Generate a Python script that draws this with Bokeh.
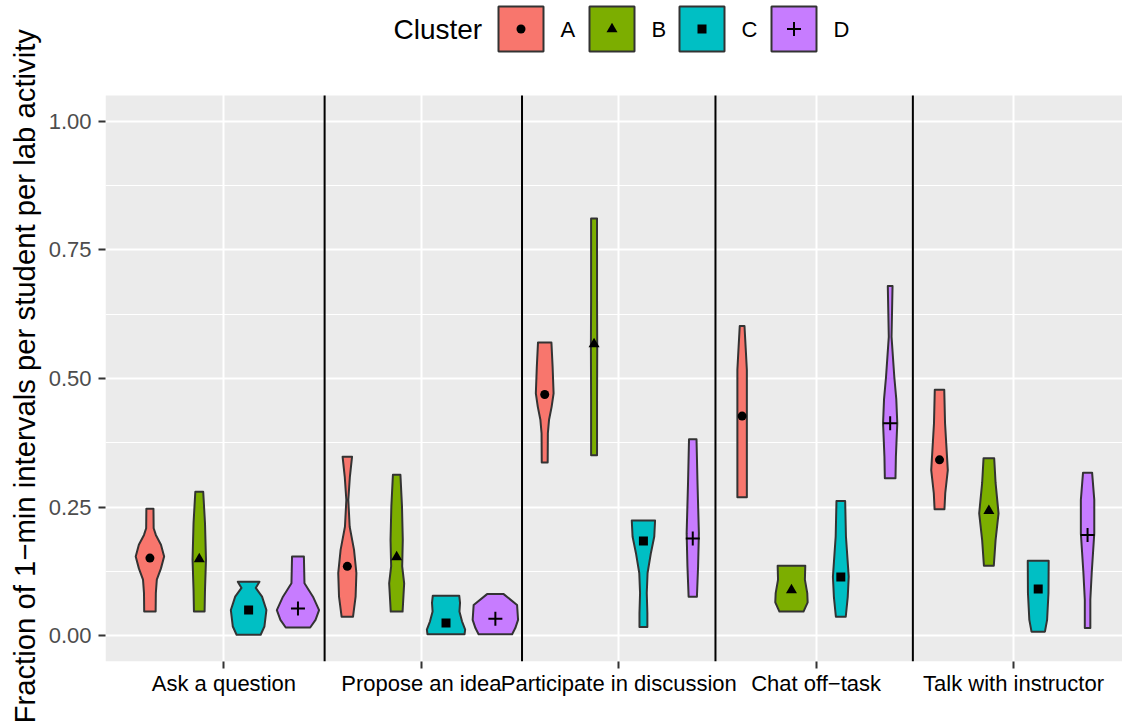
from bokeh.plotting import figure
from bokeh.models import Range1d, FixedTicker, NumeralTickFormatter, Title
from bokeh.core.properties import value
from bokeh.embed import file_html
from bokeh.resources import INLINE

# ---------------- data ----------------
categories = ["Ask a question", "Propose an idea", "Participate in discussion",
              "Chat off\u2212task", "Talk with instructor"]
clusters = ["A", "B", "C", "D"]

mean_A = [0.151, 0.135, 0.469, 0.427, 0.342]
mean_B = [0.149, 0.153, 0.567, 0.089, 0.243]
mean_C = [0.050, 0.025, 0.184, 0.114, 0.091]
mean_D = [0.053, 0.033, 0.189, 0.413, 0.196]

# violin outlines: y levels and density half-widths (x units), one list per activity
violin_y_A = [
    [0.047, 0.083, 0.109, 0.131, 0.154, 0.177, 0.196, 0.209, 0.247],
    [0.037, 0.076, 0.122, 0.167, 0.212, 0.264, 0.309, 0.348],
    [0.337, 0.394, 0.420, 0.445, 0.471, 0.523, 0.570],
    [0.269, 0.348, 0.426, 0.517, 0.560, 0.602],
    [0.246, 0.277, 0.322, 0.413, 0.478],
]
violin_w_A = [
    [0.029, 0.030, 0.035, 0.056, 0.072, 0.056, 0.030, 0.019, 0.018],
    [0.029, 0.042, 0.046, 0.034, 0.012, 0.005, 0.013, 0.024],
    [0.015, 0.016, 0.022, 0.035, 0.045, 0.040, 0.034],
    [0.024, 0.024, 0.024, 0.024, 0.018, 0.012],
    [0.025, 0.029, 0.042, 0.028, 0.024],
]
violin_y_B = [
    [0.047, 0.089, 0.148, 0.219, 0.280],
    [0.047, 0.102, 0.135, 0.186, 0.251, 0.313],
    [0.351, 0.458, 0.562, 0.652, 0.811],
    [0.047, 0.065, 0.083, 0.109, 0.136],
    [0.136, 0.186, 0.238, 0.297, 0.345],
]
violin_w_B = [
    [0.027, 0.029, 0.034, 0.029, 0.020],
    [0.030, 0.038, 0.028, 0.031, 0.027, 0.019],
    [0.015, 0.015, 0.016, 0.015, 0.015],
    [0.061, 0.082, 0.080, 0.068, 0.070],
    [0.025, 0.034, 0.049, 0.034, 0.027],
]
violin_y_C = [
    [0.002, 0.018, 0.050, 0.076, 0.093, 0.105],
    [0.003, 0.012, 0.028, 0.047, 0.064, 0.078],
    [0.017, 0.044, 0.083, 0.122, 0.161, 0.193, 0.224],
    [0.037, 0.075, 0.115, 0.193, 0.262],
    [0.008, 0.031, 0.083, 0.146],
]
violin_w_C = [
    [0.061, 0.080, 0.090, 0.068, 0.036, 0.055],
    [0.094, 0.097, 0.081, 0.068, 0.071, 0.067],
    [0.020, 0.020, 0.017, 0.021, 0.038, 0.055, 0.059],
    [0.025, 0.035, 0.040, 0.026, 0.022],
    [0.034, 0.045, 0.052, 0.053],
]
violin_y_D = [
    [0.016, 0.031, 0.050, 0.076, 0.102, 0.154],
    [0.003, 0.015, 0.031, 0.060, 0.081],
    [0.076, 0.135, 0.199, 0.297, 0.382],
    [0.306, 0.348, 0.413, 0.460, 0.503, 0.581, 0.680],
    [0.015, 0.070, 0.122, 0.199, 0.264, 0.317],
]
violin_w_D = [
    [0.062, 0.089, 0.107, 0.076, 0.033, 0.030],
    [0.085, 0.101, 0.115, 0.110, 0.042],
    [0.021, 0.027, 0.031, 0.024, 0.019],
    [0.027, 0.029, 0.036, 0.031, 0.021, 0.007, 0.012],
    [0.014, 0.014, 0.021, 0.034, 0.034, 0.023],
]

separators = [1.51, 2.51, 3.49, 4.49]
y_ticks = [0.0, 0.25, 0.5, 0.75, 1.0]
y_minor = [0.125, 0.375, 0.625, 0.875]
y_title = "Fraction of 1\u2212min intervals per student per lab activity"

# ---------------- layout / styles ----------------
FONT = "Liberation Sans"
colors = ["#F8766D", "#7CAE00", "#00BFC4", "#C77CFF"]
markers = ["circle", "triangle", "square", "cross"]
marker_sizes = [9, 11, 9, 14]
dodge = [-0.375, -0.125, 0.125, 0.375]

means = [mean_A, mean_B, mean_C, mean_D]
vys = [violin_y_A, violin_y_B, violin_y_C, violin_y_D]
vws = [violin_w_A, violin_w_B, violin_w_C, violin_w_D]

W, H = 1122, 725
FRAME_LEFT = 105
BOTTOM_BORDER = 64
PX_X = 197.4                         # px per category step
PX_Y = 514.5                         # px per unit of y
X0, Y0 = 0.4, -0.05                  # panel lower-left in data units
X1 = X0 + (W - FRAME_LEFT) / PX_X
FRAME_H = H - BOTTOM_BORDER
Y1_PANEL = 1.05
Y1 = Y0 + FRAME_H / PX_Y             # frame reaches the top of the page (legend area)
TITLE_FS = 29.3
TITLE_CENTER = 375.5


def px_to_x(px):
    return X0 + (px - FRAME_LEFT) / PX_X


def px_to_y(py):
    return Y0 + (FRAME_H - py) / PX_Y


p = figure(width=W, height=H,
           x_range=Range1d(X0, X1), y_range=Range1d(Y0, Y1),
           output_backend="svg", toolbar_location=None,
           min_border_left=FRAME_LEFT, min_border_right=0,
           min_border_top=0, min_border_bottom=BOTTOM_BORDER,
           background_fill_color="white", border_fill_color="white",
           outline_line_color=None)

# grey panel
p.quad(left=X0, right=X1, bottom=Y0, top=Y1_PANEL, fill_color="#EBEBEB",
       line_color=None, level="image")

xt = FixedTicker(ticks=[1, 2, 3, 4, 5])
yt = FixedTicker(ticks=y_ticks, minor_ticks=y_minor)
p.xaxis.ticker = xt
p.xgrid.ticker = xt
p.yaxis.ticker = yt
p.ygrid.ticker = yt
p.xgrid.grid_line_color = "white"
p.xgrid.grid_line_width = 2
p.ygrid.grid_line_color = "white"
p.ygrid.grid_line_width = 2
p.ygrid.minor_grid_line_color = "white"
p.ygrid.minor_grid_line_width = 1

for ax in (p.xaxis[0], p.yaxis[0]):
    ax.axis_line_color = None
    ax.major_tick_in = 0
    ax.major_tick_out = 7
    ax.major_tick_line_color = "#333333"
    ax.major_tick_line_width = 2
    ax.minor_tick_line_color = None
    ax.major_label_text_font = FONT
    ax.major_label_text_font_size = "22px"

p.xaxis.major_label_overrides = {i + 1: c for i, c in enumerate(categories)}
p.xaxis.major_label_text_color = "black"
p.xaxis.major_label_standoff = 2

p.yaxis.formatter = NumeralTickFormatter(format="0.00")
p.yaxis.major_label_text_color = "#4D4D4D"
p.yaxis.major_label_standoff = 7

# y title, centred on the grey panel
title_len = 23.7 * TITLE_FS
p.add_layout(Title(text=y_title, align="left",
                   offset=-round(TITLE_CENTER + title_len / 2 - FRAME_H),
                   standoff=9, text_font=FONT, text_font_size=f"{TITLE_FS}px",
                   text_font_style="normal", text_color="black"), "left")

# separators between activities
p.segment(x0=separators, y0=Y0, x1=separators, y1=Y1_PANEL,
          line_color="black", line_width=2)

# violins
for k in range(4):
    xs_list, ys_list = [], []
    for c in range(5):
        center = c + 1 + dodge[k]
        ys = vys[k][c]
        ws = vws[k][c]
        xs_list.append([center + w for w in ws] + [center - w for w in reversed(ws)])
        ys_list.append(list(ys) + list(reversed(ys)))
    p.patches(xs_list, ys_list, fill_color=colors[k], line_color="#333333",
              line_width=2, line_join="round")

# means
for k in range(4):
    xm = [c + 1 + dodge[k] for c in range(5)]
    if markers[k] == "cross":
        p.scatter(xm, means[k], marker="cross", size=marker_sizes[k],
                  line_color="black", line_width=2)
    else:
        p.scatter(xm, means[k], marker=markers[k], size=marker_sizes[k],
                  fill_color="black", line_color=None)

# legend above the panel
KEY = 45
key_cy = px_to_y(28.5)
key_left = [498, 589, 679, 771]
key_cx = [px_to_x(l + KEY / 2) for l in key_left]
p.rect(x=key_cx, y=[key_cy] * 4, width=KEY, height=KEY,
       width_units="screen", height_units="screen",
       fill_color=colors, line_color="#333333", line_width=2)
for k in range(4):
    if markers[k] == "cross":
        p.scatter([key_cx[k]], [key_cy], marker="cross", size=marker_sizes[k],
                  line_color="black", line_width=2)
    else:
        p.scatter([key_cx[k]], [key_cy], marker=markers[k], size=marker_sizes[k],
                  fill_color="black", line_color=None)
p.text(x=[px_to_x(l + KEY + 17) for l in key_left], y=[key_cy] * 4, text=clusters,
       text_font=value(FONT), text_font_size="22px", text_baseline="middle",
       text_align="left", text_color="black")
p.text(x=[px_to_x(393)], y=[key_cy], text=["Cluster"], text_font=value(FONT),
       text_font_size="28px", text_baseline="middle", text_align="left",
       text_color="black")

open("out.html", "w").write(file_html(p, INLINE))
